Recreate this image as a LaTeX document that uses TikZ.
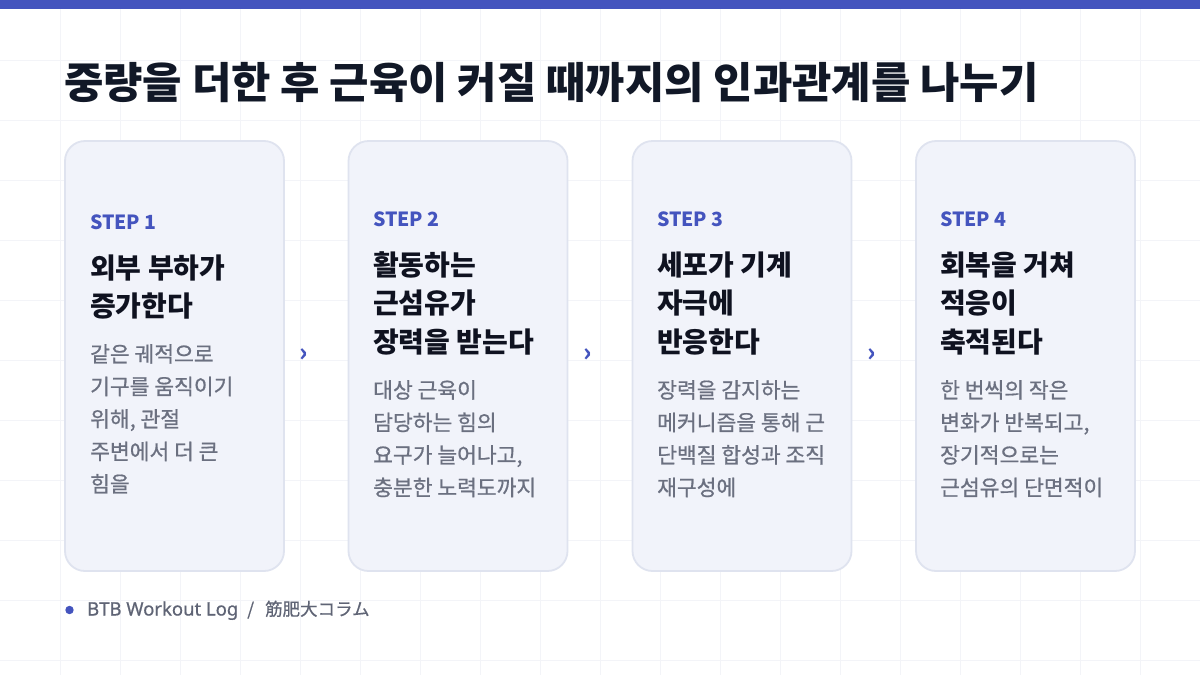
\documentclass[tikz,border=0pt]{standalone}
\usepackage{fontspec}
\setmainfont{Noto Sans CJK KR}
\newfontfamily\medfont[FakeBold=0.7]{Noto Sans CJK KR}
\newfontfamily\latinfont[FakeBold=0.7]{Noto Sans}
\usetikzlibrary{positioning,calc}
\definecolor{accent}{HTML}{4454BE}
\definecolor{titlec}{HTML}{111827}
\definecolor{headc}{HTML}{0F1220}
\definecolor{bodyc}{HTML}{6B7080}
\definecolor{cardfill}{HTML}{F1F3FA}
\definecolor{cardline}{HTML}{DFE3EF}
\definecolor{gridc}{HTML}{F3F4F8}
\definecolor{footc}{HTML}{5F6475}
\tikzset{
  card/.style={draw=cardline, line width=1.8pt, fill=cardfill, rounded corners=20pt,
    minimum width=219pt, minimum height=430pt, inner sep=0pt},
  steplbl/.style={anchor=base west, inner sep=0pt, text=accent, font=\fontsize{19.5}{19.5}\selectfont\bfseries},
  headln/.style={anchor=base west, inner sep=0pt, text=headc, font=\fontsize{28}{28}\selectfont\bfseries},
  bodyln/.style={anchor=base west, inner sep=0pt, text=bodyc, font=\fontsize{21.5}{21.5}\selectfont\medfont},
  chev/.style={inner sep=0pt, text=accent, font=\fontsize{25}{25}\selectfont\bfseries},
}
\begin{document}
\begin{tikzpicture}[x=1pt,y=-1pt]
\useasboundingbox (0,0) rectangle (1200,675);
\fill[white] (0,0) rectangle (1200,675);
% grid
\foreach \gx in {60,120,...,1140} \draw[gridc, line width=0.8pt] (\gx,9) -- (\gx,675);
\foreach \gy in {60,120,...,660} \draw[gridc, line width=0.8pt] (0,\gy) -- (1200,\gy);
% top bar
\fill[accent] (0,0) rectangle (1200,9);
% title
\node[anchor=base west, inner sep=0pt, text=titlec, font=\fontsize{42.8}{42.8}\selectfont\bfseries] (title) at (64,98) {중량을 더한 후 근육이 커질 때까지의 인과관계를 나누기};
% cards
\node[card] (card1) at (174.5,356) {};
\node[card] (card2) at (458,356) {};
\node[card] (card3) at (742,356) {};
\node[card] (card4) at (1025.5,356) {};
% chevrons
\node[chev] (ar1) at ($(card1.east)+(19,-1)$) {›};
\node[chev] (ar2) at ($(card2.east)+(19,-1)$) {›};
\node[chev] (ar3) at ($(card3.east)+(19,-1)$) {›};
% card 1
\node[steplbl] (s1) at (90,229.5) {STEP 1};
\node[headln] (h11) at (90,278.5) {외부 부하가};
\node[headln] (h12) at (90,316.5) {증가한다};
\node[bodyln] (b11) at (90,362) {같은 궤적으로};
\node[bodyln] (b12) at (90,394.5) {기구를 움직이기};
\node[bodyln] (b13) at (90,427) {위해, 관절};
\node[bodyln] (b14) at (90,459.5) {주변에서 더 큰};
\node[bodyln] (b15) at (90,492) {힘을};
% card 2
\node[steplbl] (s2) at (373,226.5) {STEP 2};
\node[headln] (h21) at (373,275.5) {활동하는};
\node[headln] (h22) at (373,313.5) {근섬유가};
\node[headln] (h23) at (373,352) {장력을 받는다};
\node[bodyln] (b21) at (373,398) {대상 근육이};
\node[bodyln] (b22) at (373,430.5) {담당하는 힘의};
\node[bodyln] (b23) at (373,463) {요구가 늘어나고,};
\node[bodyln] (b24) at (373,495.5) {충분한 노력도까지};
% card 3
\node[steplbl] (s3) at (657,226.5) {STEP 3};
\node[headln] (h31) at (657,275.5) {세포가 기계};
\node[headln] (h32) at (657,313.5) {자극에};
\node[headln] (h33) at (657,352) {반응한다};
\node[bodyln] (b31) at (657,398) {장력을 감지하는};
\node[bodyln] (b32) at (657,430.5) {메커니즘을 통해 근};
\node[bodyln] (b33) at (657,463) {단백질 합성과 조직};
\node[bodyln] (b34) at (657,495.5) {재구성에};
% card 4
\node[steplbl] (s4) at (940,226.5) {STEP 4};
\node[headln] (h41) at (940,275.5) {회복을 거쳐};
\node[headln] (h42) at (940,313.5) {적응이};
\node[headln] (h43) at (940,352) {축적된다};
\node[bodyln] (b41) at (940,398) {한 번씩의 작은};
\node[bodyln] (b42) at (940,430.5) {변화가 반복되고,};
\node[bodyln] (b43) at (940,463) {장기적으로는};
\node[bodyln] (b44) at (940,495.5) {근섬유의 단면적이};
% footer
\fill[accent] (69.5,610) circle (4.2pt);
\node[anchor=base west, inner sep=0pt, text=footc, font=\fontsize{17.5}{17.5}\selectfont\medfont] (foot) at (87,615.5) {{\latinfont\fontsize{18.5}{18.5}\selectfont BTB Workout Log}\hspace{9pt}/\hspace{11pt}筋肥大コラム};
\end{tikzpicture}
\end{document}
